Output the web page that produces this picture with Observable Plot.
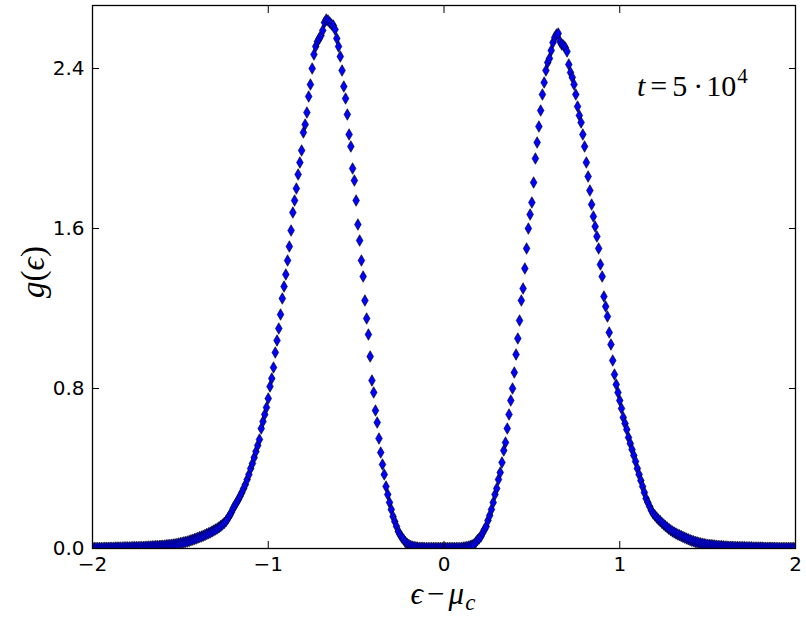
<!DOCTYPE html>
<html><head><meta charset="utf-8">
<script src="https://cdn.jsdelivr.net/npm/d3@7"></script>
<script src="https://cdn.jsdelivr.net/npm/@observablehq/plot@0.6"></script>
<style>
html,body{margin:0;padding:0;background:#fff;}
#chart{width:806px;height:617px;}
</style></head><body><div id="chart"></div>
<script>
// Energy bins (epsilon - mu_c), first bin and bin width
const xStart = -2.00;
const xStep = 0.01;
// g(epsilon), one value per bin from -2.00 to 2.00
const gValues = [
  0.003,0.003,0.003,0.003,0.003,0.003,0.003,0.004,0.004,0.004, // -2.00
  0.004,0.004,0.004,0.005,0.005,0.005,0.005,0.005,0.006,0.006, // -1.90
  0.006,0.006,0.006,0.007,0.007,0.007,0.007,0.008,0.008,0.008, // -1.80
  0.009,0.009,0.010,0.010,0.011,0.011,0.012,0.012,0.013,0.014, // -1.70
  0.014,0.015,0.016,0.017,0.018,0.019,0.020,0.021,0.023,0.025, // -1.60
  0.027,0.029,0.031,0.033,0.035,0.038,0.041,0.044,0.047,0.050, // -1.50
  0.054,0.057,0.060,0.064,0.068,0.072,0.076,0.080,0.085,0.090, // -1.40
  0.095,0.100,0.106,0.113,0.120,0.128,0.137,0.150,0.165,0.180, // -1.30
  0.200,0.215,0.230,0.245,0.262,0.280,0.300,0.320,0.345,0.370, // -1.20
  0.400,0.425,0.455,0.485,0.515,0.545,0.600,0.635,0.670,0.705, // -1.10
  0.750,0.810,0.850,0.905,0.980,1.040,1.100,1.170,1.250,1.310, // -1.00
  1.370,1.440,1.510,1.590,1.680,1.740,1.800,1.870,1.930,1.990, // -0.90
  2.080,2.120,2.180,2.260,2.320,2.400,2.470,2.510,2.535,2.550, // -0.80
  2.565,2.590,2.630,2.645,2.640,2.630,2.620,2.615,2.595,2.550, // -0.70
  2.510,2.460,2.390,2.310,2.250,2.170,2.070,2.010,1.900,1.840, // -0.60
  1.740,1.620,1.540,1.440,1.360,1.240,1.150,1.070,0.960,0.840, // -0.50
  0.780,0.690,0.630,0.550,0.480,0.420,0.370,0.310,0.270,0.230, // -0.40
  0.195,0.160,0.135,0.110,0.085,0.070,0.055,0.045,0.032,0.024, // -0.30
  0.018,0.013,0.010,0.008,0.006,0.005,0.004,0.004,0.004,0.003, // -0.20
  0.003,0.003,0.003,0.003,0.003,0.003,0.003,0.003,0.003,0.003, // -0.10
  0.003,0.003,0.003,0.003,0.003,0.003,0.003,0.003,0.003,0.003, //  0.00
  0.004,0.005,0.006,0.008,0.010,0.013,0.016,0.020,0.030,0.042, //  0.10
  0.050,0.060,0.078,0.095,0.110,0.140,0.165,0.195,0.230,0.270, //  0.20
  0.300,0.345,0.380,0.430,0.490,0.530,0.600,0.670,0.740,0.800, //  0.30
  0.880,0.970,1.050,1.140,1.240,1.300,1.400,1.500,1.600,1.670, //  0.40
  1.730,1.830,1.950,2.030,2.110,2.190,2.270,2.330,2.390,2.430, //  0.50
  2.450,2.490,2.530,2.555,2.570,2.575,2.535,2.520,2.515,2.505, //  0.60
  2.485,2.420,2.380,2.355,2.320,2.270,2.210,2.165,2.130,2.070, //  0.70
  2.010,1.930,1.860,1.790,1.720,1.660,1.610,1.560,1.500,1.420, //  0.80
  1.360,1.260,1.210,1.160,1.080,1.020,0.940,0.870,0.820,0.780, //  0.90
  0.740,0.700,0.655,0.625,0.595,0.555,0.525,0.495,0.465,0.435, //  1.00
  0.400,0.370,0.340,0.310,0.280,0.250,0.230,0.210,0.190,0.175, //  1.10
  0.165,0.155,0.145,0.137,0.128,0.120,0.112,0.105,0.098,0.091, //  1.20
  0.085,0.080,0.075,0.070,0.066,0.062,0.058,0.054,0.050,0.046, //  1.30
  0.042,0.039,0.036,0.033,0.031,0.028,0.026,0.024,0.022,0.020, //  1.40
  0.019,0.018,0.017,0.016,0.015,0.014,0.013,0.012,0.012,0.011, //  1.50
  0.010,0.010,0.009,0.009,0.009,0.008,0.008,0.008,0.007,0.007, //  1.60
  0.007,0.007,0.006,0.006,0.006,0.006,0.005,0.005,0.005,0.005, //  1.70
  0.005,0.005,0.004,0.004,0.004,0.004,0.004,0.004,0.004,0.003, //  1.80
  0.003,0.003,0.003,0.003,0.003,0.003,0.003,0.003,0.003,0.003, //  1.90
  0.003                                                         //  2.00
];
const xDomain = [-2, 2];
const yDomain = [0, 2.715];
const xTicks = [-2, -1, 0, 1, 2];
const yTicks = [0, 0.8, 1.6, 2.4];

const data = gValues.map((g, i) => ({e: +(xStart + i * xStep).toFixed(2), g}));
const fmtX = d => (d < 0 ? "\u2212" + Math.abs(d) : String(d));
const fmtY = d => d.toFixed(1);

const chart = Plot.plot({
  width: 806,
  height: 617,
  marginLeft: 92,
  marginRight: 11,
  marginTop: 5,
  marginBottom: 69,
  x: {domain: xDomain, label: null},
  y: {domain: yDomain, label: null},
  style: {fontFamily: "'DejaVu Sans', sans-serif", fontSize: "20px", color: "#000", background: "#fff"},
  marks: [
    Plot.dot(data, {x: "e", y: "g", symbol: "diamond", r: 3.5, fill: "#0000ff", stroke: "#000", strokeWidth: 0.6, clip: true}),
    Plot.frame({stroke: "#000", strokeWidth: 1.3}),
    Plot.axisX(xTicks, {anchor: "bottom", tickSize: 7, dy: -7, fill: "none", label: null}),
    Plot.axisX(xTicks, {anchor: "top", tickSize: 7, dy: 7, fill: "none", label: null}),
    Plot.axisY(yTicks, {anchor: "left", tickSize: 7, dx: 7, fill: "none", label: null}),
    Plot.axisY(yTicks, {anchor: "right", tickSize: 7, dx: -7, fill: "none", label: null}),
    Plot.axisX(xTicks, {anchor: "bottom", tickSize: 0, tickPadding: 8, tickFormat: fmtX, label: null}),
    Plot.axisY(yTicks, {anchor: "left", tickSize: 0, tickPadding: 8, tickFormat: fmtY, label: null})
  ]
});

const svg = d3.select(chart);
const serif = "'Liberation Serif', 'DejaVu Serif', serif";

// y-axis title g(ϵ)
const yt = svg.append("text")
  .attr("transform", "translate(44,272) rotate(-90)")
  .attr("text-anchor", "middle")
  .style("font-family", serif)
  .style("font-size", "33px")
  .attr("fill", "#000");
yt.append("tspan").attr("font-style", "italic").text("g");
yt.append("tspan").text("(");
yt.append("tspan").attr("font-style", "italic").text("\u03f5");
yt.append("tspan").text(")");

// x-axis title ϵ−μc
const xt = svg.append("text")
  .attr("x", 443).attr("y", 604)
  .attr("text-anchor", "middle")
  .style("font-family", serif)
  .style("font-size", "31px")
  .attr("fill", "#000");
xt.append("tspan").attr("font-style", "italic").text("\u03f5");
xt.append("tspan").attr("dx", 4).text("\u2212");
xt.append("tspan").attr("dx", 4).attr("font-style", "italic").text("\u03bc");
xt.append("tspan").attr("font-style", "italic").style("font-size", "23px").attr("dx", 1).attr("dy", 6).text("c");

// annotation t = 5·10^4
const an = svg.append("text")
  .attr("x", 637).attr("y", 96)
  .attr("text-anchor", "start")
  .style("font-family", serif)
  .style("font-size", "30px")
  .attr("fill", "#000");
an.append("tspan").attr("font-style", "italic").text("t");
an.append("tspan").attr("dx", 5).text("=");
an.append("tspan").attr("dx", 5).text("5");
an.append("tspan").attr("dx", 6).text("\u00b7");
an.append("tspan").attr("dx", 3).text("10");
an.append("tspan").style("font-size", "21px").attr("dy", -13).attr("dx", 1).text("4");

document.getElementById("chart").appendChild(chart);
</script>
</body></html>
